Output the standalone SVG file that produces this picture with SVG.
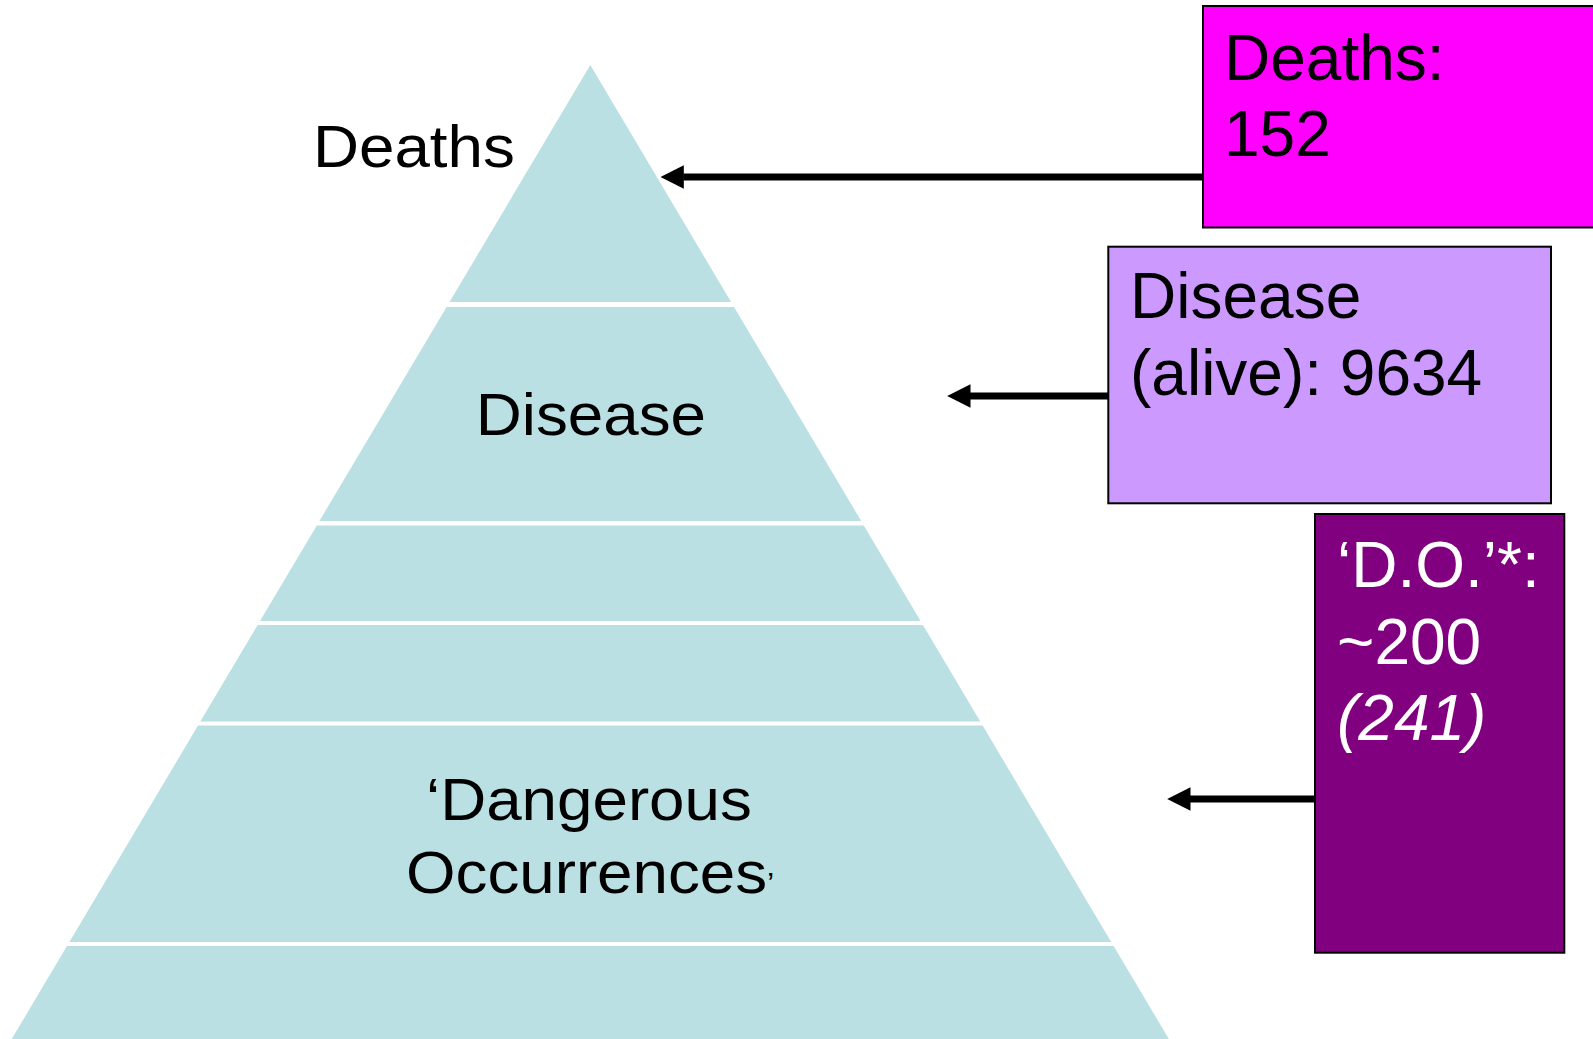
<svg xmlns="http://www.w3.org/2000/svg" width="1593" height="1039" viewBox="0 0 1593 1039">
<style>
.tier{fill:#BBE0E3;}
.lbl{font-family:"Liberation Sans",Arial,sans-serif;font-size:59px;fill:#000;}
.box{stroke:#000;stroke-width:2;}
.bt{font-family:"Liberation Sans",Arial,sans-serif;font-size:64px;}
.conn{stroke:#000;stroke-width:7;fill:none;marker-end:url(#ah);}
</style>
<defs>
<marker id="ah" markerUnits="userSpaceOnUse" markerWidth="26" markerHeight="26" refX="0.5" refY="11.7" orient="auto">
<path d="M0,0 L23.3,11.7 L0,23.4 Z" fill="#000"/>
</marker>
</defs>
<rect width="1593" height="1039" fill="#fff"/>
<g id="pyramid">
<g id="tier-deaths"><polygon class="tier" points="590.3,65 731.1,302 449.5,302"/></g>
<g id="tier-disease"><polygon class="tier" points="446.6,307 734,307 861.2,521 319.4,521"/></g>
<g id="tier-3"><polygon class="tier" points="316.8,525.5 863.8,525.5 920.6,621 260,621"/></g>
<g id="tier-4"><polygon class="tier" points="257.7,625 922.9,625 980.3,721.5 200.3,721.5"/></g>
<g id="tier-do"><polygon class="tier" points="198,725.5 982.6,725.5 1111.2,942 69.4,942"/></g>
<g id="tier-6"><polygon class="tier" points="67,946 1113.6,946 1168.9,1039 11.7,1039"/></g>
</g>
<g id="labels">
<text class="lbl" transform="translate(313,167) scale(1.08,1)">Deaths</text>
<text class="lbl" transform="translate(475.8,435) scale(1.08,1)">Disease</text>
<text class="lbl" transform="translate(426,820) scale(1.08,1)">‘Dangerous</text>
<text class="lbl" transform="translate(406,893) scale(1.08,1)">Occurrences<tspan font-size="30">’</tspan></text>
</g>
<g id="connectors">
<line class="conn" x1="1203" y1="177" x2="683.3" y2="177"/>
<line class="conn" x1="1108" y1="396" x2="970" y2="396"/>
<line class="conn" x1="1315" y1="799" x2="1190" y2="799"/>
</g>
<g id="box-deaths">
<rect class="box" x="1203" y="6" width="400" height="221.5" fill="#FF00FF"/>
<text class="bt" fill="#000"><tspan x="1224" y="80">Deaths:</tspan><tspan x="1224" y="156">152</tspan></text>
</g>
<g id="box-disease">
<rect class="box" x="1108.3" y="246.7" width="442.7" height="256.6" fill="#CC99FF"/>
<text class="bt" fill="#000"><tspan x="1130" y="318">Disease</tspan><tspan x="1130" y="395">(alive): 9634</tspan></text>
</g>
<g id="box-do">
<rect class="box" x="1315" y="514" width="249.3" height="438.7" fill="#800080"/>
<text class="bt" fill="#fff"><tspan x="1337" y="587">‘D.O.’*:</tspan><tspan x="1337" y="664">~200</tspan><tspan x="1337" y="740" font-style="italic">(241)</tspan></text>
</g>
</svg>
